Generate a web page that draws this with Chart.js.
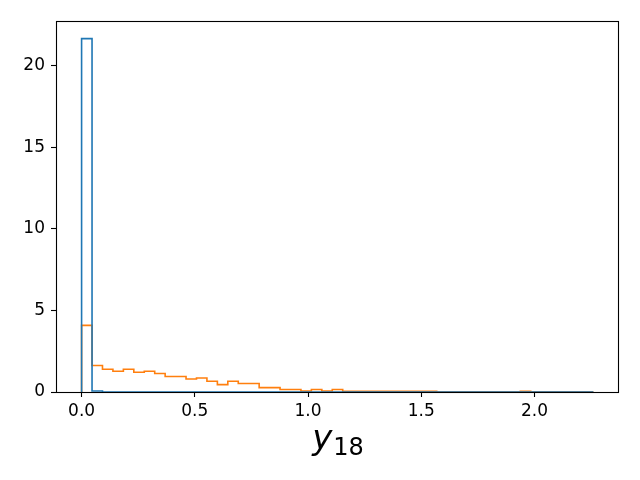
<!DOCTYPE html>
<html><head><meta charset="utf-8">
<script src="https://cdn.jsdelivr.net/npm/chart.js@4"></script>
<style>html,body{margin:0;padding:0;background:#fff;} #wrap{width:640px;height:480px;}</style>
</head><body><div id="wrap"><canvas id="c" width="640" height="480"></canvas></div>
<script>
// ---- data ----
const binCount = 49;
const rangeMin = 0;
const rangeMax = 2.26;
const blueDensity = [21.65, 0.06,
  0,0,0,0,0,0,0,0,0,0, 0,0,0,0,0,0,0,0,0,0, 0,0,0,0,0,0,0,0,0,0, 0,0,0,0,0,0,0,0,0,0, 0,0,0,0,0,0,0];
const orangeDensity = [4.08, 1.62, 1.39, 1.27, 1.39, 1.21, 1.27, 1.13, 0.95, 0.95,
  0.80, 0.86, 0.66, 0.45, 0.66, 0.52, 0.52, 0.27, 0.27, 0.15,
  0.15, 0.06, 0.15, 0.06, 0.15, 0.05, 0.05, 0.05, 0.05, 0.05,
  0.05, 0.05, 0.05, 0.05, 0, 0, 0, 0, 0, 0,
  0, 0, 0.05, 0, 0, 0, 0, 0, 0];
const xTicks = [0, 0.5, 1.0, 1.5, 2.0];
const yTicks = [0, 5, 10, 15, 20];
const xLabelMain = 'y';
const xLabelSub = '18';

// ---- build step outlines from bin edges ----
function stepPoints(values) {
  const w = (rangeMax - rangeMin) / values.length;
  const pts = [{x: rangeMin, y: 0}];
  values.forEach((v, i) => pts.push({x: rangeMin + i * w, y: v}));
  pts.push({x: rangeMax, y: values[values.length - 1]});
  pts.push({x: rangeMax, y: 0});
  return pts;
}
const allMax = Math.max(...blueDensity, ...orangeDensity);
const span = rangeMax - rangeMin;

Chart.defaults.font.family = '"DejaVu Sans", sans-serif';
Chart.defaults.font.size = 17;
Chart.defaults.color = '#000';

const framePlugin = {
  id: 'frame',
  afterDatasetsDraw(chart) {
    const {ctx, chartArea: a} = chart;
    ctx.save();
    ctx.strokeStyle = '#000';
    ctx.lineWidth = 1.1;
    ctx.strokeRect(a.left + 0.5, a.top + 0.5, a.right - a.left - 1, a.bottom - a.top);
    ctx.restore();
  },
  afterDraw(chart) {
    const {ctx, chartArea: a} = chart;
    ctx.save();
    ctx.fillStyle = '#000';
    ctx.textBaseline = 'alphabetic';
    const mainFont = 'italic 34px "DejaVu Sans"';
    const subFont = '24px "DejaVu Sans"';
    ctx.font = mainFont; const w1 = ctx.measureText(xLabelMain).width;
    ctx.font = subFont; const w2 = ctx.measureText(xLabelSub).width;
    const cx = (a.left + a.right) / 2;
    const x0 = cx - (w1 + w2) / 2;
    ctx.font = mainFont; ctx.fillText(xLabelMain, x0, 449);
    ctx.font = subFont; ctx.fillText(xLabelSub, x0 + w1 + 1, 455);
    ctx.restore();
  }
};

new Chart(document.getElementById('c'), {
  type: 'line',
  data: {
    datasets: [
      {label: 'a', data: stepPoints(blueDensity), borderColor: '#1f77b4', borderWidth: 1.6,
       stepped: 'before', pointRadius: 0, fill: false, tension: 0},
      {label: 'b', data: stepPoints(orangeDensity), borderColor: '#ff7f0e', borderWidth: 1.6,
       stepped: 'before', pointRadius: 0, fill: false, tension: 0}
    ]
  },
  options: {
    responsive: false, animation: false, devicePixelRatio: 1,
    layout: {padding: {top: 21, right: 21, left: 0, bottom: 0}},
    plugins: {legend: {display: false}, tooltip: {enabled: false}},
    scales: {
      x: {
        type: 'linear', min: rangeMin - 0.05 * span, max: rangeMax + 0.05 * span,
        border: {display: false},
        grid: {display: true, drawOnChartArea: false, drawTicks: true, tickLength: 5, tickWidth: 1.1, tickColor: '#000'},
        ticks: {padding: 4, color: '#000', maxRotation: 0, callback: v => v.toFixed(1)},
        afterBuildTicks: s => { s.ticks = xTicks.map(v => ({value: v})); },
        afterFit: s => { s.height = 88; }
      },
      y: {
        type: 'linear', min: 0, max: allMax * 1.05,
        border: {display: false},
        grid: {display: true, drawOnChartArea: false, drawTicks: true, tickLength: 5, tickWidth: 1.1, tickColor: '#000'},
        ticks: {padding: 6, color: '#000', callback: v => String(v)},
        afterBuildTicks: s => { s.ticks = yTicks.map(v => ({value: v})); },
        afterFit: s => { s.width = 56; }
      }
    }
  },
  plugins: [framePlugin]
});
</script>
</body></html>
